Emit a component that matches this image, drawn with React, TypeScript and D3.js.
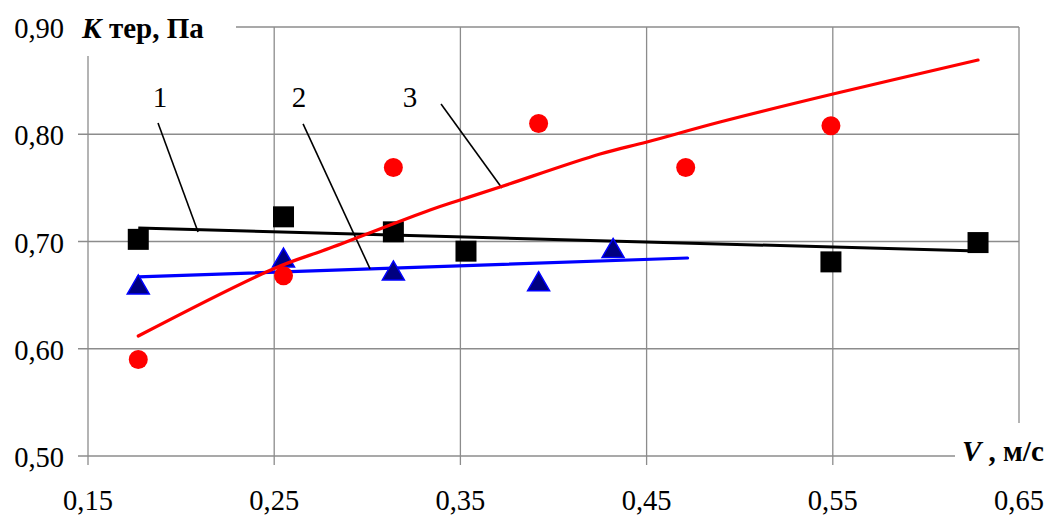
import React from "react";
import * as d3 from "d3";

// ---- data ----
const xTicks = [0.15, 0.25, 0.35, 0.45, 0.55, 0.65];
const yTicks = [0.5, 0.6, 0.7, 0.8, 0.9];

const squaresX = [0.177, 0.255, 0.314, 0.353, 0.549, 0.628];
const squaresY = [0.702, 0.723, 0.709, 0.691, 0.681, 0.699];

const trianglesX = [0.177, 0.255, 0.314, 0.392, 0.432];
const trianglesY = [0.66, 0.685, 0.673, 0.663, 0.694];

const circlesX = [0.177, 0.255, 0.314, 0.392, 0.471, 0.549];
const circlesY = [0.59, 0.668, 0.769, 0.81, 0.769, 0.808];

const trend1X = [0.177, 0.628];
const trend1Y = [0.7126, 0.6911];

const trend2X = [0.177, 0.472];
const trend2Y = [0.667, 0.6846];

const trend3X = [0.177, 0.2494, 0.28, 0.3337, 0.3498, 0.3713, 0.425, 0.4502, 0.4894, 0.5501, 0.628];
const trend3Y = [0.6119, 0.6744, 0.6939, 0.7294, 0.7387, 0.7508, 0.7816, 0.7928, 0.8114, 0.8375, 0.8692];

const annLabels = ["1", "2", "3"];
const annTextX = [0.1887, 0.2633, 0.3229];
const annTextY = [0.8254, 0.8254, 0.8254];
const annFromX = [0.1876, 0.2655, 0.3396];
const annFromY = [0.8105, 0.8096, 0.8282];
const annToX = [0.2091, 0.3015, 0.3723];
const annToY = [0.7089, 0.6744, 0.7499];

const fmt = (v: number) => v.toFixed(2).replace(".", ",");

export default function App() {
  const W = 1046, H = 516;
  const x = d3.scaleLinear().domain([0.15, 0.65]).range([88, 1019]);
  const y = d3.scaleLinear().domain([0.5, 0.9]).range([456, 27]);
  const font = "'Liberation Serif', 'Times New Roman', serif";
  const grid = "#8c8c8c";

  const line = d3.line<[number, number]>().x(d => x(d[0])).y(d => y(d[1]));
  const smooth = d3.line<[number, number]>().x(d => x(d[0])).y(d => y(d[1])).curve(d3.curveCatmullRom.alpha(0.5));
  const zip = (a: number[], b: number[]) => a.map((v, i) => [v, b[i]] as [number, number]);

  const sq = 21, tri = 22, rad = 9.5;

  return (
    <svg width={W} height={H} style={{ position: "absolute", left: 0, top: 0, background: "#fff" }}
      fontFamily={font}>
      <rect x={0} y={0} width={W} height={H} fill="#fff" />
      {/* grid */}
      {yTicks.map(t => (
        <line key={"gy" + t} x1={x(0.15) - 10} x2={x(0.65)} y1={y(t)} y2={y(t)} stroke={grid} strokeWidth={1.3} />
      ))}
      {xTicks.map(t => (
        <line key={"gx" + t} x1={x(t)} x2={x(t)} y1={y(0.9)} y2={y(0.5) + 9} stroke={grid} strokeWidth={1.3} />
      ))}
      {/* label covers */}
      <rect x={68} y={0} width={168} height={56} fill="#fff" />
      <rect x={955} y={423} width={91} height={52} fill="#fff" />
      {/* tick labels */}
      {yTicks.map(t => (
        <text key={"ty" + t} x={64} y={y(t) + 11} textAnchor="end" fontSize={28.5} fill="#000">{fmt(t)}</text>
      ))}
      {xTicks.map(t => (
        <text key={"tx" + t} x={x(t)} y={510} textAnchor="middle" fontSize={28.5} fill="#000">{fmt(t)}</text>
      ))}
      {/* axis titles */}
      <text x={82} y={38} fontSize={29} fontWeight="bold" fill="#000">
        <tspan fontStyle="italic">К</tspan> тер, Па
      </text>
      <text x={962} y={461} fontSize={29} fontWeight="bold" fill="#000">
        <tspan fontStyle="italic">V</tspan> , м/с
      </text>
      {/* trend lines */}
      <path d={line(zip(trend1X, trend1Y)) || ""} fill="none" stroke="#000" strokeWidth={3} />
      <path d={line(zip(trend2X, trend2Y)) || ""} fill="none" stroke="#0000ff" strokeWidth={3.2} strokeLinecap="round" />
      {/* annotations */}
      {annLabels.map((l, i) => (
        <g key={"a" + l}>
          <text x={x(annTextX[i])} y={y(annTextY[i])} textAnchor="middle" fontSize={29} fill="#000">{l}</text>
          <line x1={x(annFromX[i])} y1={y(annFromY[i])} x2={x(annToX[i])} y2={y(annToY[i])} stroke="#000" strokeWidth={1.6} />
        </g>
      ))}
      {/* markers */}
      {squaresX.map((v, i) => (
        <rect key={"s" + i} x={x(v) - sq / 2} y={y(squaresY[i]) - sq / 2} width={sq} height={sq} fill="#000" />
      ))}
      {trianglesX.map((v, i) => {
        const cx = x(v), cy = y(trianglesY[i]);
        const h = 19;
        return (
          <polygon key={"t" + i}
            points={`${cx},${cy - h / 2} ${cx + tri / 2},${cy + h / 2} ${cx - tri / 2},${cy + h / 2}`}
            fill="#000080" stroke="#0000ff" strokeWidth={1.5} strokeLinejoin="miter" />
        );
      })}
      {circlesX.map((v, i) => (
        <circle key={"c" + i} cx={x(v)} cy={y(circlesY[i])} r={rad} fill="#ff0000" />
      ))}
      <path d={smooth(zip(trend3X, trend3Y)) || ""} fill="none" stroke="#ff0000" strokeWidth={3.2} strokeLinecap="round" strokeLinejoin="round" />
    </svg>
  );
}
